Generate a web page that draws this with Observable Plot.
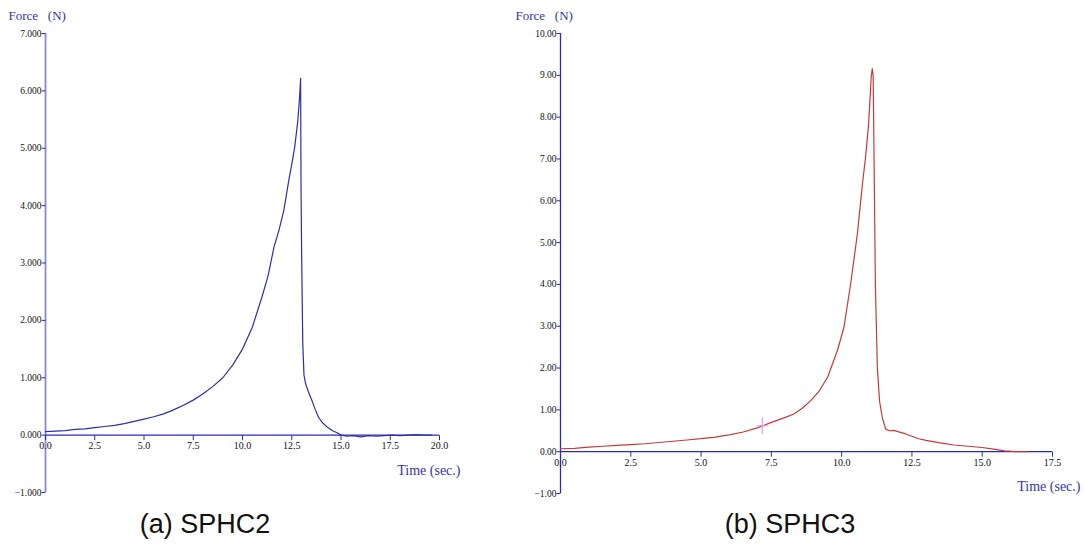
<!DOCTYPE html>
<html>
<head>
<meta charset="utf-8">
<script src="https://cdn.jsdelivr.net/npm/d3@7"></script>
<script src="https://cdn.jsdelivr.net/npm/@observablehq/plot@0.6"></script>
<style>
  body { margin: 0; background: #fff; }
  #wrap { position: relative; width: 1086px; height: 552px; overflow: hidden; background: #fff; }
  .panel { position: absolute; top: 0; }
  .cap { position: absolute; top: 509px; font-family: "Liberation Sans", Arial, sans-serif; font-size: 27px; color: #111; white-space: nowrap; transform: translateX(-50%); }
</style>
</head>
<body>
<div id="wrap">
  <div class="panel" id="left" style="left:0px"></div>
  <div class="panel" id="right" style="left:500px"></div>
  <div class="cap" style="left:205px">(a) SPHC2</div>
  <div class="cap" style="left:790px">(b) SPHC3</div>
</div>
<script>
// ---------- Data ----------
const yLabel = "Force\u00a0\u00a0\u00a0(N)";
const xLabel = "Time (sec.)";

// (a) SPHC2
const leftTime = [0, 0.5, 1, 1.5, 2, 2.5, 3, 3.5, 4, 4.5, 5, 5.5, 6, 6.5, 7, 7.5, 8, 8.5, 9, 9.5, 10, 10.5, 11, 11.3, 11.6, 11.85, 12.1, 12.35, 12.5, 12.65, 12.8, 12.9, 12.95, 12.97, 13.0, 13.03, 13.06, 13.12, 13.2, 13.35, 13.55, 13.7, 13.86, 14.05, 14.3, 14.55, 14.8, 15.0, 15.3, 15.6, 16.0, 16.4, 16.8, 17.2, 17.6, 18.0, 18.4, 18.8, 19.2, 19.6];
const leftForce = [0.06, 0.07, 0.08, 0.10, 0.11, 0.13, 0.15, 0.17, 0.20, 0.24, 0.28, 0.32, 0.37, 0.44, 0.52, 0.61, 0.72, 0.85, 1.00, 1.22, 1.50, 1.88, 2.42, 2.78, 3.28, 3.57, 3.92, 4.44, 4.72, 5.02, 5.45, 5.90, 6.22, 4.40, 3.20, 2.35, 1.60, 1.05, 0.90, 0.75, 0.58, 0.44, 0.31, 0.22, 0.14, 0.08, 0.04, 0.00, -0.02, -0.01, -0.03, -0.01, -0.02, -0.01, 0.00, -0.01, 0.00, 0.01, 0.00, 0.00];
const leftXTicks = [0, 2.5, 5, 7.5, 10, 12.5, 15, 17.5, 20];
const leftYTicks = [-1, 0, 1, 2, 3, 4, 5, 6, 7];

// (b) SPHC3
const rightTime = [0, 0.5, 1, 1.5, 2, 2.5, 3, 3.5, 4, 4.5, 5, 5.5, 6, 6.5, 7, 7.2, 7.5, 8, 8.3, 8.6, 8.9, 9.2, 9.5, 9.85, 10.08, 10.32, 10.56, 10.74, 10.85, 10.95, 11.02, 11.05, 11.09, 11.12, 11.15, 11.2, 11.27, 11.35, 11.45, 11.57, 11.7, 11.85, 12.0, 12.25, 12.5, 12.75, 13.0, 13.5, 14.0, 14.5, 15.0, 15.4, 15.8, 16.2, 16.6];
const rightForce = [0.07, 0.08, 0.11, 0.13, 0.15, 0.17, 0.19, 0.22, 0.25, 0.28, 0.31, 0.35, 0.40, 0.47, 0.57, 0.62, 0.70, 0.82, 0.90, 1.04, 1.22, 1.45, 1.78, 2.42, 2.97, 4.01, 5.21, 6.40, 7.04, 7.76, 8.56, 8.95, 9.16, 9.00, 7.20, 4.00, 2.00, 1.20, 0.80, 0.54, 0.50, 0.51, 0.48, 0.43, 0.37, 0.31, 0.27, 0.21, 0.16, 0.13, 0.10, 0.06, 0.02, 0.00, 0.00];
const rightXTicks = [0, 2.5, 5, 7.5, 10, 12.5, 15, 17.5];
const rightYTicks = [-1, 0, 1, 2, 3, 4, 5, 6, 7, 8, 9, 10];
const rightMarkerTime = [7.18];
const rightMarkerForce = [0.62];

// ---------- Styles ----------
const axisBlue = "#2a2ab4";
const labelBlue = "#3535a8";
const tickDown = {draw(ctx) { ctx.moveTo(0, 0); ctx.lineTo(0, 5); }};
const tickLeft = {draw(ctx) { ctx.moveTo(0, 0); ctx.lineTo(-4, 0); }};
const crossSym = {draw(ctx) { ctx.moveTo(-6, 0); ctx.lineTo(6, 0); ctx.moveTo(0, -8); ctx.lineTo(0, 8); }};

function panel({width, height, marginLeft, marginRight, marginTop, marginBottom, xDomain, yDomain,
                xTicks, yTicks, yFmt, time, force, lineColor, yAxisColor, yAxisWidth, xLabelDx, yLabelDx, extra}) {
  return Plot.plot({
    width, height, marginLeft, marginRight, marginTop, marginBottom,
    style: {fontFamily: "'Liberation Serif', 'Times New Roman', serif", fontSize: "10px", background: "white", overflow: "visible"},
    x: {domain: xDomain, axis: null},
    y: {domain: yDomain, axis: null},
    marks: [
      Plot.ruleX([0], {y1: yDomain[0], y2: yDomain[1], stroke: yAxisColor, strokeWidth: yAxisWidth}),
      Plot.dot(yTicks, {x: 0, y: d => d, symbol: tickLeft, stroke: axisBlue, fill: "none", strokeWidth: 1}),
      Plot.text(yTicks, {x: 0, y: d => d, text: d => d3.format(yFmt)(d), dx: -4, textAnchor: "end", lineAnchor: "middle", fill: "#111", fontSize: 9.5}),
      Plot.ruleY([0], {x1: xDomain[0], x2: xDomain[1], stroke: axisBlue, strokeWidth: 1.3}),
      Plot.dot(xTicks, {x: d => d, y: 0, symbol: tickDown, stroke: axisBlue, fill: "none", strokeWidth: 1}),
      Plot.text(xTicks, {x: d => d, y: 0, text: d => d3.format(".1f")(d), dy: 11, lineAnchor: "middle", fill: "#111", fontSize: 10}),
      Plot.line(force, {x: time, y: force, stroke: lineColor, strokeWidth: 1.2}),
      ...(extra || []),
      Plot.text([xLabel], {x: xDomain[1], y: 0, dy: 35, dx: xLabelDx, textAnchor: "end", lineAnchor: "middle", fill: labelBlue, fontSize: 14}),
      Plot.text([yLabel], {frameAnchor: "top-left", dx: yLabelDx, dy: -18, textAnchor: "start", lineAnchor: "middle", fill: labelBlue, fontSize: 13})
    ]
  });
}

document.getElementById("left").append(panel({
  width: 470, height: 500, marginLeft: 45, marginRight: 31, marginTop: 33, marginBottom: 8,
  xDomain: [0, 20], yDomain: [-1, 7], xTicks: leftXTicks, yTicks: leftYTicks, yFmt: ".3f",
  time: leftTime, force: leftForce, lineColor: "#2e2eac", yAxisColor: "#8a8ad0", yAxisWidth: 1.8,
  xLabelDx: 21, yLabelDx: -37
}));

document.getElementById("right").append(panel({
  width: 586, height: 500, marginLeft: 60, marginRight: 34, marginTop: 33, marginBottom: 7,
  xDomain: [0, 17.5], yDomain: [-1, 10], xTicks: rightXTicks, yTicks: rightYTicks, yFmt: ".2f",
  time: rightTime, force: rightForce, lineColor: "#c43a3a", yAxisColor: axisBlue, yAxisWidth: 1.3,
  xLabelDx: 28, yLabelDx: -45,
  extra: [Plot.dot(rightMarkerForce, {x: rightMarkerTime, y: rightMarkerForce, symbol: crossSym, stroke: "#e49ae4", fill: "none", strokeWidth: 1.2})]
}));
</script>
</body>
</html>
